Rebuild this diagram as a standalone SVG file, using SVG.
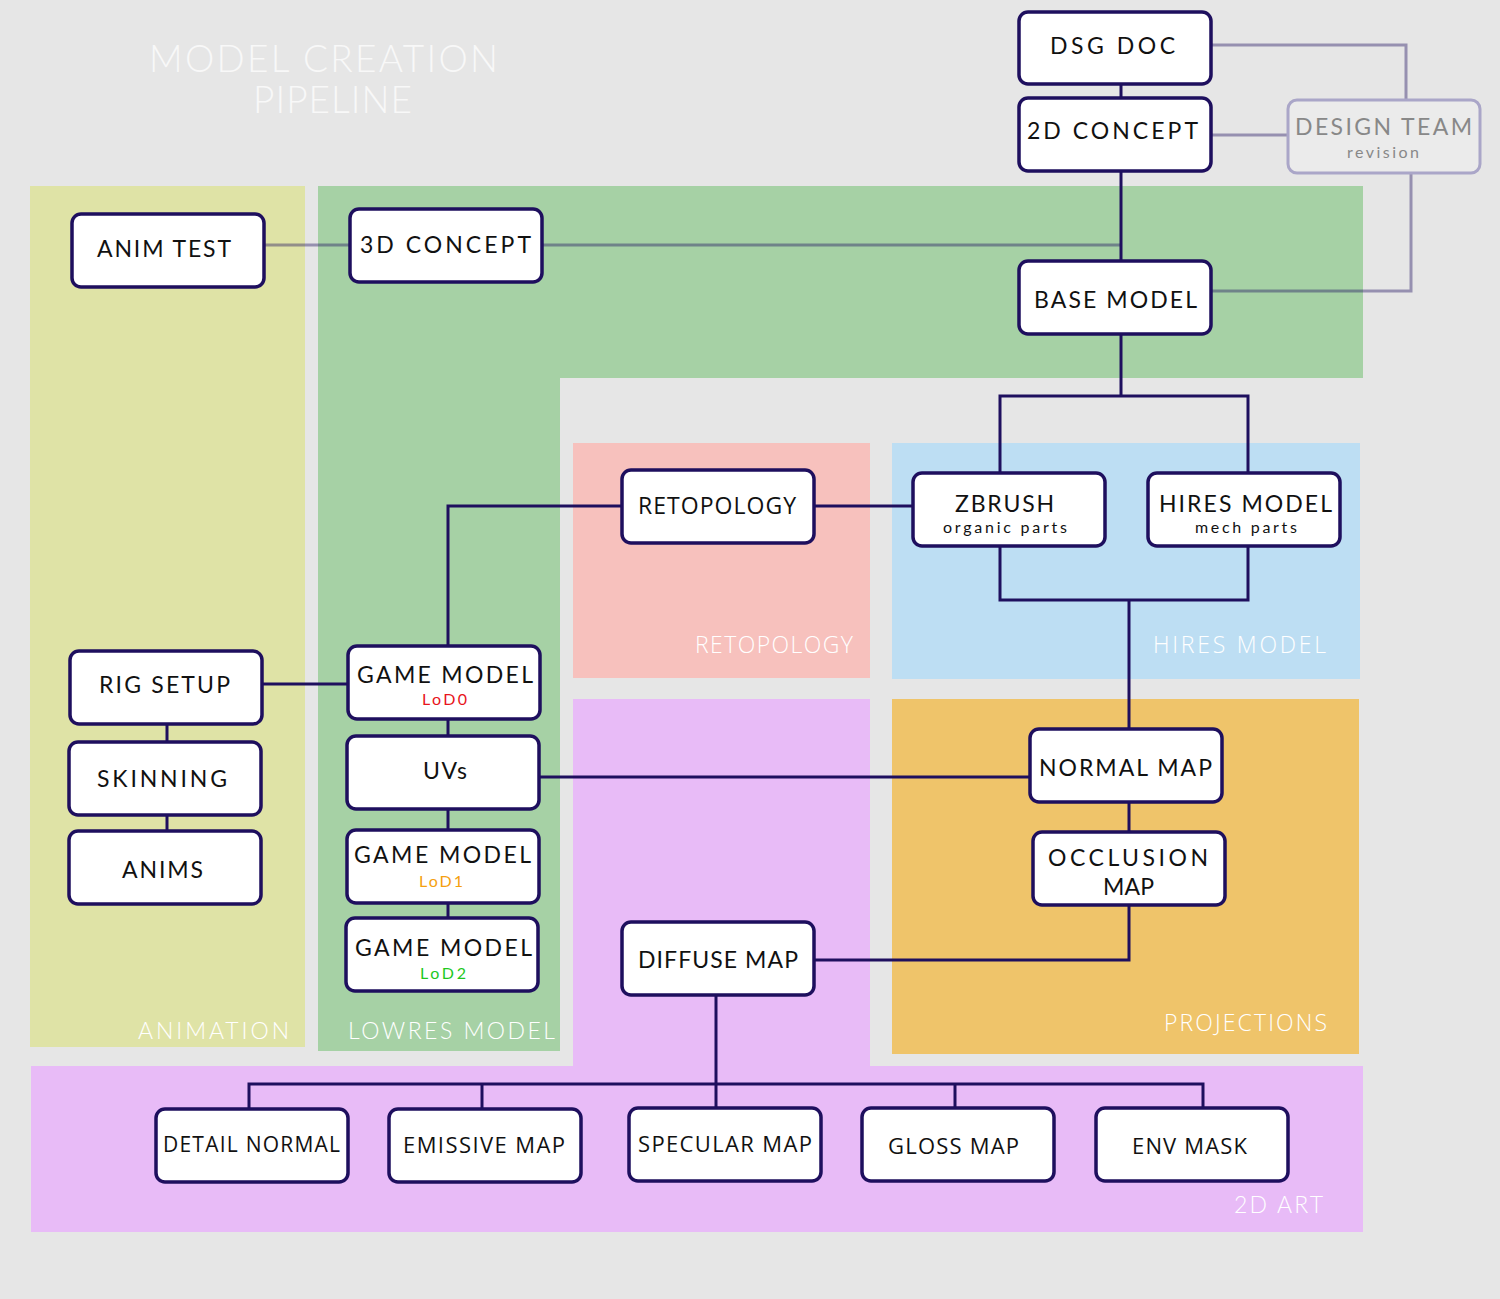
<svg xmlns="http://www.w3.org/2000/svg" width="1500" height="1299" viewBox="0 0 1500 1299">
<style>
.bg{fill:#e6e6e6}
.n rect{fill:#ffffff;stroke:#1e0f5e;stroke-width:3.5}
.t{font-family:Lato,"Liberation Sans",sans-serif;font-size:23px;fill:#111111}
.m{font-family:"Open Sans","Noto Sans",sans-serif;font-size:22px;fill:#111111}
.s{font-family:Lato,"Liberation Sans",sans-serif;font-size:16px;fill:#111111}
.r{font-family:Lato,"Liberation Sans",sans-serif;font-size:23px;font-weight:300;fill:#ffffff}
.h{font-family:Lato,"Liberation Sans",sans-serif;font-size:37px;font-weight:300;fill:#f8f8f8}
.ro{font-family:"Open Sans","Noto Sans",sans-serif;font-size:23px;font-weight:300;fill:#ffffff}
.c{fill:none;stroke:#1e0f5e;stroke-width:3}
.g{fill:none;stroke:#1e0f5e;stroke-width:3;stroke-opacity:0.4}
</style>
<rect class="bg" x="0" y="0" width="1500" height="1299"/>
<g id="regions">
  <rect x="30" y="186" width="275" height="861" fill="#dfe3a6"/>
  <path d="M318 186H1363V378H560V1051H318Z" fill="#a6d1a5"/>
  <rect x="573" y="443" width="297" height="235" fill="#f7c1bd"/>
  <rect x="892" y="443" width="468" height="236" fill="#bddef3"/>
  <rect x="892" y="699" width="467" height="355" fill="#efc46a"/>
  <path d="M573 699H870V1066H1363V1232H31V1066H573Z" fill="#e8bbf7"/>
  <text class="h" x="149" y="72" textLength="349">MODEL CREATION</text>
  <text class="h" x="253" y="113" textLength="159">PIPELINE</text>
  <text class="r" x="138" y="1039" textLength="151">ANIMATION</text>
  <text class="r" x="348" y="1039" textLength="207">LOWRES MODEL</text>
  <text class="ro" x="695" y="653" textLength="158">RETOPOLOGY</text>
  <text class="ro" x="1153" y="653" textLength="173">HIRES MODEL</text>
  <text class="ro" x="1164" y="1031" textLength="163">PROJECTIONS</text>
  <text class="r" x="1234" y="1213" textLength="89">2D ART</text>
</g>
<g id="connectors">
  <path class="g" d="M1211 45H1406V100"/>
  <path class="g" d="M1211 135H1288"/>
  <path class="g" d="M1411 173V291H1211"/>
  <path class="g" d="M264 245H350"/>
  <path class="g" d="M542 245H1121"/>
  <path class="c" d="M1121 84V98"/>
  <path class="c" d="M1121 171V261"/>
  <path class="c" d="M1121 334V396"/>
  <path class="c" d="M1000 473V396H1248V473"/>
  <path class="c" d="M1000 546V600H1248V546"/>
  <path class="c" d="M1129 600V729"/>
  <path class="c" d="M814 506H913"/>
  <path class="c" d="M622 506H448V646"/>
  <path class="c" d="M262 684H348"/>
  <path class="c" d="M448 719V736"/>
  <path class="c" d="M448 809V830"/>
  <path class="c" d="M448 903V918"/>
  <path class="c" d="M539 777H1030"/>
  <path class="c" d="M1129 802V832"/>
  <path class="c" d="M1129 905V960H814"/>
  <path class="c" d="M167 724V742"/>
  <path class="c" d="M167 815V831"/>
  <path class="c" d="M716 995V1108"/>
  <path class="c" d="M249 1109V1084H1203V1108"/>
  <path class="c" d="M482 1084V1109"/>
  <path class="c" d="M955 1084V1108"/>
</g>
<g id="dsg-doc" class="n"><rect x="1019" y="12" width="192" height="72" rx="9"/><text class="t" x="1050" y="54" textLength="125">DSG DOC</text></g>
<g id="concept-2d" class="n"><rect x="1019" y="98" width="192" height="73" rx="9"/><text class="t" x="1027" y="139" textLength="171">2D CONCEPT</text></g>
<g id="design-team"><rect x="1288" y="100" width="192" height="73" rx="9" fill="#ebebeb" stroke="#aaa6c8" stroke-width="3"/><text class="t" x="1295" y="135" textLength="177" style="fill:#888888">DESIGN TEAM</text><text class="s" x="1347" y="158" textLength="72" style="fill:#888888">revision</text></g>
<g id="anim-test" class="n"><rect x="72" y="214" width="192" height="73" rx="9"/><text class="t" x="97" y="257" textLength="134">ANIM TEST</text></g>
<g id="concept-3d" class="n"><rect x="350" y="209" width="192" height="73" rx="9"/><text class="t" x="360" y="253" textLength="171">3D CONCEPT</text></g>
<g id="base-model" class="n"><rect x="1019" y="261" width="192" height="73" rx="9"/><text class="t" x="1034" y="308" textLength="163">BASE MODEL</text></g>
<g id="retopology" class="n"><rect x="622" y="470" width="192" height="73" rx="9"/><text class="m" x="638" y="514" style="font-size:23px" textLength="158">RETOPOLOGY</text></g>
<g id="zbrush" class="n"><rect x="913" y="473" width="192" height="73" rx="9"/><text class="t" x="955" y="512" textLength="99">ZBRUSH</text><text class="s" x="943" y="533" textLength="124">organic parts</text></g>
<g id="hires-model" class="n"><rect x="1148" y="473" width="192" height="73" rx="9"/><text class="t" x="1159" y="512" textLength="173">HIRES MODEL</text><text class="s" x="1195" y="533" textLength="102">mech parts</text></g>
<g id="rig-setup" class="n"><rect x="70" y="651" width="192" height="73" rx="9"/><text class="t" x="99" y="693" textLength="131">RIG SETUP</text></g>
<g id="skinning" class="n"><rect x="69" y="742" width="192" height="73" rx="9"/><text class="t" x="97" y="787" textLength="130">SKINNING</text></g>
<g id="anims" class="n"><rect x="69" y="831" width="192" height="73" rx="9"/><text class="t" x="122" y="878" textLength="81">ANIMS</text></g>
<g id="game-model-lod0" class="n"><rect x="348" y="646" width="192" height="73" rx="9"/><text class="t" x="357" y="683" textLength="176">GAME MODEL</text><text class="s" x="422" y="705" textLength="45" style="fill:#e8141b">LoD0</text></g>
<g id="uvs" class="n"><rect x="347" y="736" width="192" height="73" rx="9"/><text class="t" x="423" y="779" textLength="44">UVs</text></g>
<g id="game-model-lod1" class="n"><rect x="347" y="830" width="192" height="73" rx="9"/><text class="t" x="354" y="863" textLength="177">GAME MODEL</text><text class="s" x="419" y="887" textLength="44" style="fill:#f5a00f">LoD1</text></g>
<g id="game-model-lod2" class="n"><rect x="346" y="918" width="192" height="73" rx="9"/><text class="t" x="355" y="956" textLength="177">GAME MODEL</text><text class="s" x="420" y="979" textLength="46" style="fill:#1ec81e">LoD2</text></g>
<g id="normal-map" class="n"><rect x="1030" y="729" width="192" height="73" rx="9"/><text class="t" x="1039" y="776" textLength="173">NORMAL MAP</text></g>
<g id="occlusion-map" class="n"><rect x="1033" y="832" width="192" height="73" rx="9"/><text class="t" x="1048" y="866" textLength="160">OCCLUSION</text><text class="t" x="1103" y="895" textLength="51">MAP</text></g>
<g id="diffuse-map" class="n"><rect x="622" y="922" width="192" height="73" rx="9"/><text class="t" x="638" y="968" textLength="160">DIFFUSE MAP</text></g>
<g id="detail-normal" class="n"><rect x="156" y="1109" width="192" height="73" rx="9"/><text class="m" x="163" y="1152" style="font-size:21px" textLength="177">DETAIL NORMAL</text></g>
<g id="emissive-map" class="n"><rect x="389" y="1109" width="192" height="73" rx="9"/><text class="m" x="403" y="1153" textLength="162">EMISSIVE MAP</text></g>
<g id="specular-map" class="n"><rect x="629" y="1108" width="192" height="73" rx="9"/><text class="m" x="638" y="1152" textLength="174">SPECULAR MAP</text></g>
<g id="gloss-map" class="n"><rect x="862" y="1108" width="192" height="73" rx="9"/><text class="m" x="888" y="1154" textLength="131">GLOSS MAP</text></g>
<g id="env-mask" class="n"><rect x="1096" y="1108" width="192" height="73" rx="9"/><text class="m" x="1132" y="1154" textLength="115">ENV MASK</text></g>
</svg>
